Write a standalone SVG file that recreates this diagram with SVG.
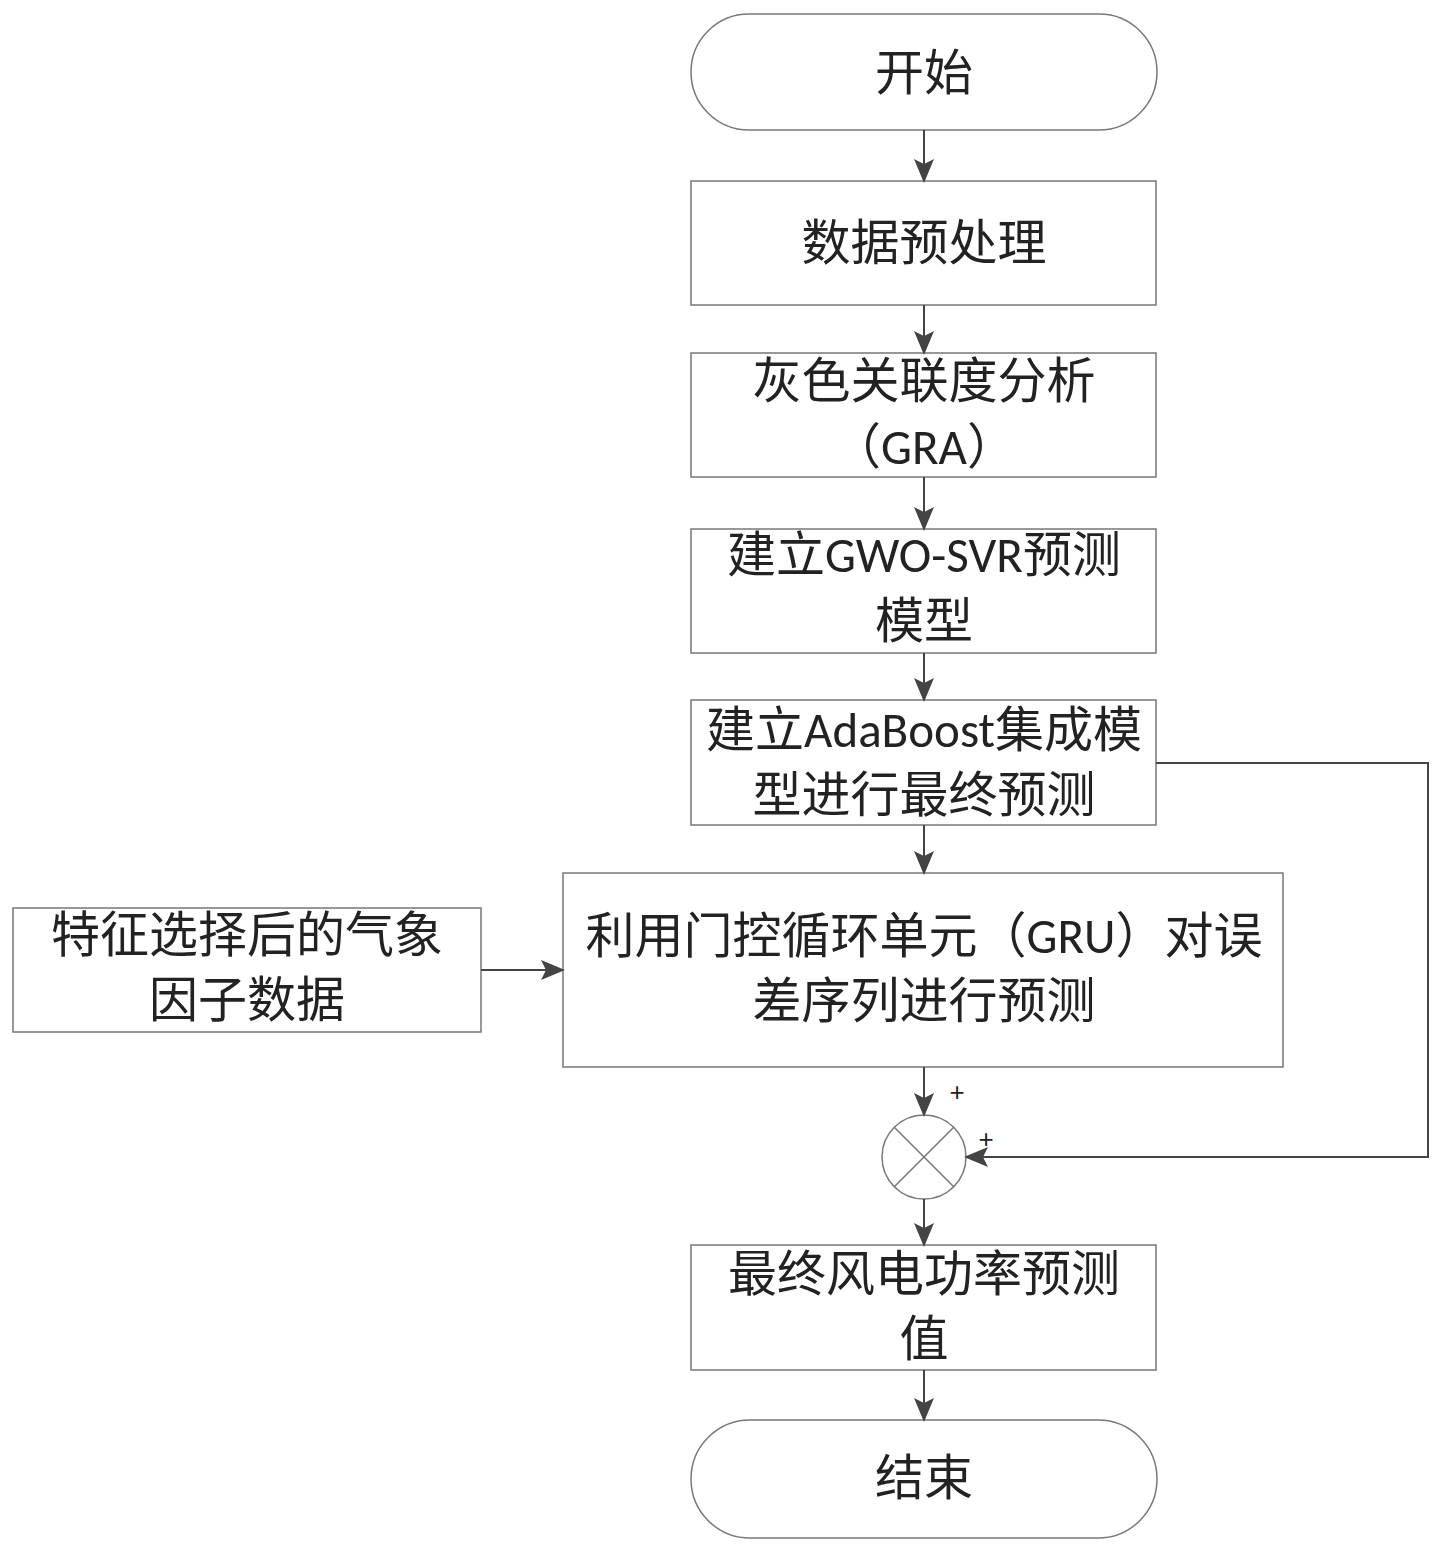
<svg xmlns="http://www.w3.org/2000/svg" width="1444" height="1553" viewBox="0 0 1444 1553">
<style>
.b{fill:#fff;stroke:#777;stroke-width:1.5}
.t{font-family:"Calibri","Carlito","Noto Sans","Noto Sans CJK SC",sans-serif;font-size:49px;fill:#222;text-anchor:middle}
.p{font-family:"Liberation Sans",sans-serif;font-size:26px;fill:#222;text-anchor:middle}
.c{fill:none;stroke:#444;stroke-width:2}
</style>
<defs>
<marker id="m" markerWidth="24" markerHeight="20" refX="22" refY="10" orient="auto" markerUnits="userSpaceOnUse"><path d="M0,0 L24,10 L0,20 L5,10 z" fill="#444"/></marker></defs>
<g id="start"><rect class="b" x="691" y="14" width="466" height="116" rx="58"/><text class="t" x="924" y="90">开始</text></g>
<g id="n1"><rect class="b" x="691" y="181" width="465" height="124"/><text class="t" x="924" y="260">数据预处理</text></g>
<g id="n2"><rect class="b" x="691" y="353" width="465" height="124"/><text class="t" x="924" y="398">灰色关联度分析</text><text class="t" x="924" y="464">（GRA）</text></g>
<g id="n3"><rect class="b" x="691" y="529" width="465" height="124"/><text class="t" x="924" y="572">建立GWO-SVR预测</text><text class="t" x="924" y="638">模型</text></g>
<g id="n4"><rect class="b" x="691" y="700" width="465" height="125"/><text class="t" x="924" y="747">建立AdaBoost集成模</text><text class="t" x="924" y="812">型进行最终预测</text></g>
<g id="n5"><rect class="b" x="563" y="873" width="720" height="194"/><text class="t" x="924" y="953">利用门控循环单元（GRU）对误</text><text class="t" x="924" y="1018">差序列进行预测</text></g>
<g id="n6"><rect class="b" x="13" y="908" width="468" height="124"/><text class="t" x="247" y="952">特征选择后的气象</text><text class="t" x="247" y="1017">因子数据</text></g>
<g id="sum"><circle class="b" cx="924" cy="1157" r="42"/><path d="M894,1127 L954,1187 M954,1127 L894,1187" stroke="#777" stroke-width="1.5"/>
<text class="p" x="957" y="1101">+</text>
<text class="p" x="986" y="1148">+</text></g>
<g id="n7"><rect class="b" x="691" y="1245" width="465" height="125"/><text class="t" x="924" y="1291">最终风电功率预测</text><text class="t" x="924" y="1356">值</text></g>
<g id="end"><rect class="b" x="691" y="1420" width="466" height="118" rx="59"/><text class="t" x="924" y="1495">结束</text></g>
<g id="connectors">
<path class="c" d="M924,130 V181" marker-end="url(#m)"/>
<path class="c" d="M924,305 V353" marker-end="url(#m)"/>
<path class="c" d="M924,477 V529" marker-end="url(#m)"/>
<path class="c" d="M924,653 V700" marker-end="url(#m)"/>
<path class="c" d="M924,825 V873" marker-end="url(#m)"/>
<path class="c" d="M924,1067 V1115" marker-end="url(#m)"/>
<path class="c" d="M481,970 H563" marker-end="url(#m)"/>
<path class="c" d="M1156,763 H1428 V1157 H966" marker-end="url(#m)"/>
<path class="c" d="M924,1199 V1245" marker-end="url(#m)"/>
<path class="c" d="M924,1370 V1420" marker-end="url(#m)"/>
</g>
</svg>
